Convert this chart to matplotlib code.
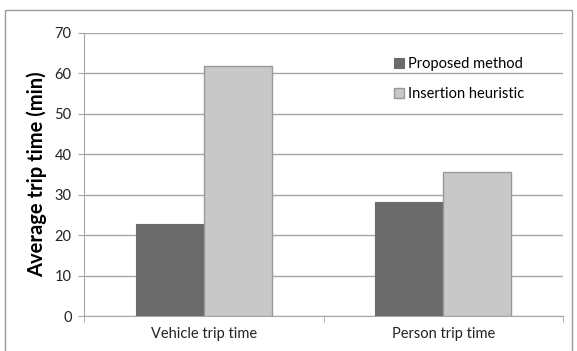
import matplotlib.pyplot as plt
import numpy as np
from matplotlib.patches import Rectangle

plt.rcParams['font.family'] = ['Lato', 'DejaVu Sans']

categories = ['Vehicle trip time', 'Person trip time']
proposed = [22.7, 28.1]
insertion = [61.8, 35.7]

fig = plt.figure(figsize=(5.77, 3.51), dpi=100)
ax = fig.add_axes([84 / 577, 35 / 351, 479 / 577, 283 / 351])

# outer chart frame
fig.patches.append(Rectangle((5 / 577, -0.05), 567 / 577, 1.05 - 10 / 351,
                             transform=fig.transFigure, fill=False,
                             edgecolor='#9a9a9a', linewidth=1))

x = np.arange(len(categories))
w = 0.284
ax.bar(x - w / 2, proposed, w, color='#6b6b6b', edgecolor='#6b6b6b',
       linewidth=0.8, label='Proposed method', zorder=3)
ax.bar(x + w / 2, insertion, w, color='#c8c8c8', edgecolor='#999999',
       linewidth=1.0, label='Insertion heuristic', zorder=3)

ax.set_xlim(-0.5, 1.5)
ax.set_ylim(0, 70)
ax.set_yticks(range(0, 71, 10))
ax.yaxis.grid(True, color='#a6a6a6', linewidth=1.0, zorder=0)
ax.set_axisbelow(True)

ax.set_xticks(x)
ax.set_xticklabels(categories, fontsize=10.5, color='#222222')
ax.set_xticks([-0.5, 0.5, 1.5], minor=True)
ax.tick_params(axis='x', which='major', length=0, pad=8)
ax.tick_params(axis='x', which='minor', length=4, color='#a6a6a6', direction='out')
ax.tick_params(axis='y', length=4, color='#a6a6a6', labelsize=10.5,
               labelcolor='#222222', pad=5)

for side in ['top', 'right']:
    ax.spines[side].set_visible(False)
for side in ['left', 'bottom']:
    ax.spines[side].set_color('#a6a6a6')

ax.set_ylabel('Average trip time (min)', fontsize=14.5, fontweight='bold', labelpad=5)

ax.legend(loc='upper left', bbox_to_anchor=(0.62, 0.96), frameon=False,
          fontsize=10.5, handlelength=0.65, handleheight=0.65, handletextpad=0.3,
          labelspacing=1.05)

plt.savefig('out.png', dpi=100)
